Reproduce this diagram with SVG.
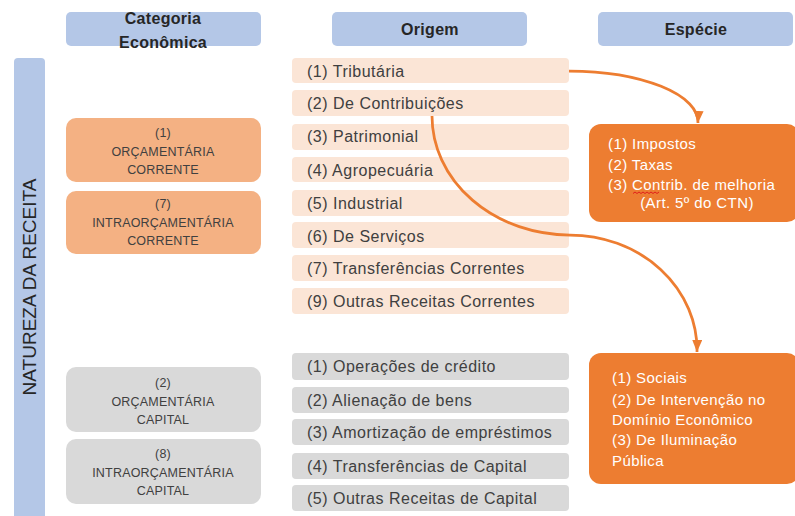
<svg xmlns="http://www.w3.org/2000/svg" width="795" height="516" viewBox="0 0 795 516">
  <style>
    .hdr { fill: #B4C7E7; }
    .hdr-t { font-family: "Liberation Sans", Arial, sans-serif; font-size: 16px; font-weight: bold; fill: #262626; text-anchor: middle; letter-spacing: 0.3px; }
    .cat-cur { fill: #F4B183; }
    .cat-cap { fill: #D9D9D9; }
    .cat-t { font-family: "Liberation Sans", Arial, sans-serif; font-size: 12.5px; fill: #404040; text-anchor: middle; letter-spacing: 0.2px; }
    .org-cur { fill: #FBE5D6; }
    .org-cap { fill: #D9D9D9; }
    .org-t { font-family: "Liberation Sans", Arial, sans-serif; font-size: 16px; fill: #404040; letter-spacing: 0.5px; }
    .esp { fill: #ED7D31; }
    .esp-t { font-family: "Liberation Sans", Arial, sans-serif; font-size: 15px; fill: #FFFFFF; letter-spacing: 0.4px; }
    .side-t { font-family: "Liberation Sans", Arial, sans-serif; font-size: 19px; fill: #262626; text-anchor: middle; }
    .conn { fill: none; stroke: #ED7D31; stroke-width: 2.75; }
  </style>
  <defs>
    <marker id="arrow" markerUnits="userSpaceOnUse" markerWidth="14" markerHeight="12" refX="12" refY="5" orient="auto">
      <path d="M0,0 L12,5 L0,10 z" fill="#ED7D31"/>
    </marker>
  </defs>

  <rect width="795" height="516" fill="#FFFFFF"/>

  <!-- side label -->
  <g id="natureza">
    <rect x="14" y="58" width="31" height="470" rx="4" class="hdr"/>
    <text class="side-t" transform="translate(36,287) rotate(-90)">NATUREZA DA RECEITA</text>
  </g>

  <!-- column headers -->
  <g id="hdr-categoria">
    <rect x="66" y="12" width="195" height="34" rx="5" class="hdr"/>
    <text class="hdr-t" x="163" y="24">Categoria</text>
    <text class="hdr-t" x="163" y="48">Econômica</text>
  </g>
  <g id="hdr-origem">
    <rect x="332" y="12" width="195" height="34" rx="5" class="hdr"/>
    <text class="hdr-t" x="430" y="35">Origem</text>
  </g>
  <g id="hdr-especie">
    <rect x="598" y="12" width="195" height="34" rx="5" class="hdr"/>
    <text class="hdr-t" x="696" y="35">Espécie</text>
  </g>

  <!-- economic categories -->
  <g id="cat-1">
    <rect x="66" y="118" width="195" height="64" rx="10" class="cat-cur"/>
    <text class="cat-t" x="163" y="137">(1)</text>
    <text class="cat-t" x="163" y="155.5">ORÇAMENTÁRIA</text>
    <text class="cat-t" x="163" y="174">CORRENTE</text>
  </g>
  <g id="cat-7">
    <rect x="66" y="191" width="195" height="63" rx="10" class="cat-cur"/>
    <text class="cat-t" x="163" y="208">(7)</text>
    <text class="cat-t" x="163" y="226.5">INTRAORÇAMENTÁRIA</text>
    <text class="cat-t" x="163" y="245">CORRENTE</text>
  </g>
  <g id="cat-2">
    <rect x="66" y="367" width="195" height="65" rx="10" class="cat-cap"/>
    <text class="cat-t" x="163" y="387">(2)</text>
    <text class="cat-t" x="163" y="405.5">ORÇAMENTÁRIA</text>
    <text class="cat-t" x="163" y="424">CAPITAL</text>
  </g>
  <g id="cat-8">
    <rect x="66" y="439" width="195" height="65" rx="10" class="cat-cap"/>
    <text class="cat-t" x="163" y="458">(8)</text>
    <text class="cat-t" x="163" y="476.5">INTRAORÇAMENTÁRIA</text>
    <text class="cat-t" x="163" y="495">CAPITAL</text>
  </g>

  <!-- origins: current revenue -->
  <g id="org-tributaria">
    <rect x="292" y="58" width="277" height="25" rx="4" class="org-cur"/>
    <text class="org-t" x="307" y="77">(1) Tributária</text>
  </g>
  <g id="org-contribuicoes">
    <rect x="292" y="90" width="277" height="26" rx="4" class="org-cur"/>
    <text class="org-t" x="307" y="109">(2) De Contribuições</text>
  </g>
  <g id="org-patrimonial">
    <rect x="292" y="124" width="277" height="26" rx="4" class="org-cur"/>
    <text class="org-t" x="307" y="142">(3) Patrimonial</text>
  </g>
  <g id="org-agropecuaria">
    <rect x="292" y="157" width="277" height="25" rx="4" class="org-cur"/>
    <text class="org-t" x="307" y="176">(4) Agropecuária</text>
  </g>
  <g id="org-industrial">
    <rect x="292" y="190" width="277" height="26" rx="4" class="org-cur"/>
    <text class="org-t" x="307" y="209">(5) Industrial</text>
  </g>
  <g id="org-servicos">
    <rect x="292" y="222" width="277" height="26" rx="4" class="org-cur"/>
    <text class="org-t" x="307" y="242">(6) De Serviços</text>
  </g>
  <g id="org-transf-correntes">
    <rect x="292" y="255" width="277" height="26" rx="4" class="org-cur"/>
    <text class="org-t" x="307" y="274">(7) Transferências Correntes</text>
  </g>
  <g id="org-outras-correntes">
    <rect x="292" y="288" width="277" height="26" rx="4" class="org-cur"/>
    <text class="org-t" x="307" y="307">(9) Outras Receitas Correntes</text>
  </g>

  <!-- origins: capital revenue -->
  <g id="org-operacoes">
    <rect x="292" y="353" width="277" height="27" rx="4" class="org-cap"/>
    <text class="org-t" x="307" y="372">(1) Operações de crédito</text>
  </g>
  <g id="org-alienacao">
    <rect x="292" y="387" width="277" height="26" rx="4" class="org-cap"/>
    <text class="org-t" x="307" y="406">(2) Alienação de bens</text>
  </g>
  <g id="org-amortizacao">
    <rect x="292" y="419" width="277" height="26" rx="4" class="org-cap"/>
    <text class="org-t" x="307" y="438">(3) Amortização de empréstimos</text>
  </g>
  <g id="org-transf-capital">
    <rect x="292" y="453" width="277" height="26" rx="4" class="org-cap"/>
    <text class="org-t" x="307" y="472">(4) Transferências de Capital</text>
  </g>
  <g id="org-outras-capital">
    <rect x="292" y="485" width="277" height="26" rx="4" class="org-cap"/>
    <text class="org-t" x="307" y="504">(5) Outras Receitas de Capital</text>
  </g>

  <!-- species -->
  <g id="esp-tributos">
    <rect x="589" y="124" width="210" height="98" rx="12" class="esp"/>
    <text class="esp-t" x="608" y="149">(1) Impostos</text>
    <text class="esp-t" x="608" y="169.5">(2) Taxas</text>
    <text class="esp-t" x="608" y="190">(3) Contrib. de melhoria</text>
    <path d="M633,193.5 l2,-1.5 l2,1.5 l2,-1.5 l2,1.5 l2,-1.5 l2,1.5 l2,-1.5 l2,1.5 l2,-1.5 l2,1.5 l2,-1.5 l2,1.5 l2,-1.5" fill="none" stroke="#E0201B" stroke-width="1"/>
    <text class="esp-t" x="697" y="208" text-anchor="middle">(Art. 5º do CTN)</text>
  </g>
  <g id="esp-contribuicoes">
    <rect x="589" y="353" width="210" height="131" rx="12" class="esp"/>
    <text class="esp-t" x="612" y="383">(1) Sociais</text>
    <text class="esp-t" x="612" y="405">(2) De Intervenção no</text>
    <text class="esp-t" x="612" y="425">Domínio Econômico</text>
    <text class="esp-t" x="612" y="445">(3) De Iluminação</text>
    <text class="esp-t" x="612" y="466">Pública</text>
  </g>

  <!-- connectors -->
  <g id="connectors">
    <path class="conn" d="M569,71 A129,51 0 0 1 698,123" marker-end="url(#arrow)"/>
    <path class="conn" d="M432,116 A138,119 0 0 0 570,235 A127,115 0 0 1 697,352" marker-end="url(#arrow)"/>
  </g>
</svg>
